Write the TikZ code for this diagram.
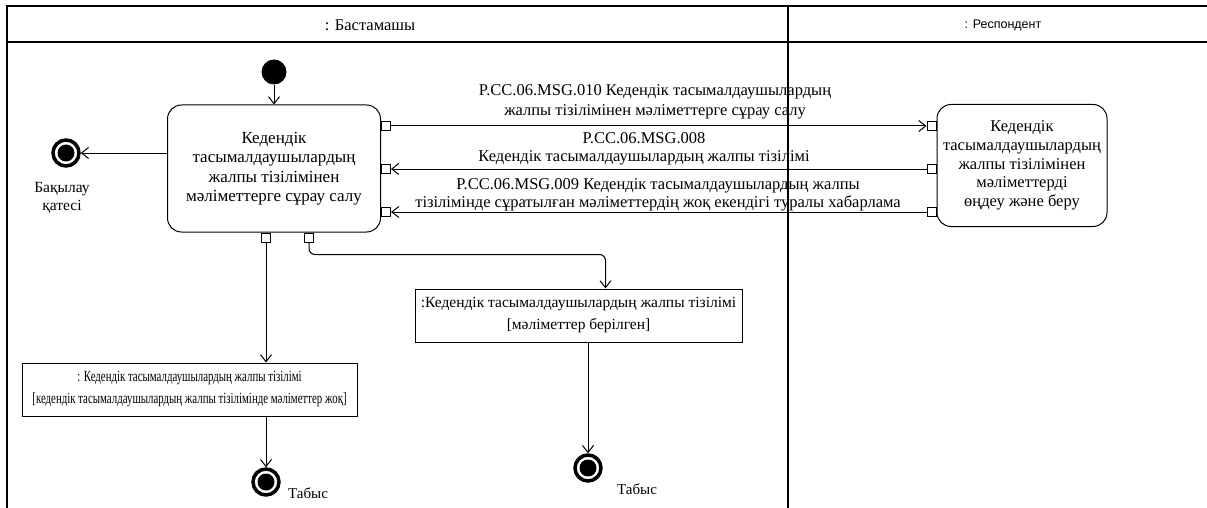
\documentclass[tikz,border=0pt]{standalone}
\usepackage{fontspec}
\setmainfont{Liberation Serif}
\newfontfamily\lanefont{Liberation Sans}
\newfontfamily\objfont[FakeStretch=0.7]{Liberation Serif}
\usetikzlibrary{arrows.meta}
\usetikzlibrary{positioning}

\begin{document}
\begin{tikzpicture}[x=1pt, y=-1pt, line width=1pt,
    flow/.style={-{Straight Barb[length=7pt,width=11pt]}},
    action/.style={draw, rounded corners=14pt, align=center, font=\fontsize{17}{19.5}\selectfont},
    pin/.style={draw, fill=white, minimum size=9pt, inner sep=0pt},
    objbox/.style={draw, inner sep=0pt, align=center},
    msg/.style={align=center, font=\fontsize{16.5}{18}\selectfont},
    startdot/.style={circle, fill, minimum size=25pt, inner sep=0pt},
    enddot/.style={circle, draw, line width=3.5pt, minimum size=26pt, inner sep=0pt,
      path picture={\fill (path picture bounding box.center) circle (8.5pt);}}]
      \useasboundingbox (0,0) rectangle (1207,508);
      \draw[line width=1.5pt] (7,508) -- (7,6) -- (1207,6);
      \draw[line width=1.5pt] (7,42) -- (1207,42);
      \draw[line width=1.5pt] (788,6) -- (788,508);
      \node[font=\fontsize{16.5}{18}\selectfont] (laneA) at (370,25) {: Бастамашы};
      \node[font=\lanefont\fontsize{12.5}{15}\selectfont] (laneB) at (1003,25) {: Респондент};

      \node[startdot] (start) at (274,72) {};
      \node[action, minimum width=213pt, minimum height=127pt] (req) at (274,168.5)
        {Кедендік\\тасымалдаушылардың\\жалпы тізілімінен\\мәліметтерге сұрау салу};
      \draw[flow] (start) -- (req);

      \node[pin, anchor=west] (reqOut) at (req.east |- 0,126) {};
      \node[pin, anchor=west] (reqOk) at (req.east |- 0,169) {};
      \node[pin, anchor=west] (reqNone) at (req.east |- 0,212) {};
      \node[pin, anchor=north] (reqNo) at (req.south -| 266,0) {};
      \node[pin, anchor=north] (reqYes) at (req.south -| 309,0) {};

      \node[action, minimum width=170pt, minimum height=122pt, font=\fontsize{16.5}{18.8}\selectfont] (resp) at (1022,165.5)
        {Кедендік\\тасымалдаушылардың\\жалпы тізілімінен\\мәліметтерді\\өңдеу және беру};
      \node[pin, anchor=east] (respIn) at (resp.west |- 0,126) {};
      \node[pin, anchor=east] (respOk) at (resp.west |- 0,169) {};
      \node[pin, anchor=east] (respNone) at (resp.west |- 0,212) {};

      \draw[flow] (reqOut) -- (respIn);
      \draw[flow] (respOk) -- (reqOk);
      \draw[flow] (respNone) -- (reqNone);
      \node[msg, font=\fontsize{16.5}{20}\selectfont] (msgReq) at (655,102)
        {P.CC.06.MSG.010 Кедендік тасымалдаушылардың\\жалпы тізілімінен мәліметтерге сұрау салу};
      \node[msg] (msgOk) at (644,149)
        {P.CC.06.MSG.008\\Кедендік тасымалдаушылардың жалпы тізілімі};
      \node[msg] (msgNone) at (658,195)
        {P.CC.06.MSG.009 Кедендік тасымалдаушылардың жалпы\\тізілімінде сұратылған мәліметтердің жоқ екендігі туралы хабарлама};

      \node[enddot] (errEnd) at (66,153) {};
      \draw[flow] (req.west |- errEnd) -- (errEnd);
      \node[align=center, font=\fontsize{15.5}{18}\selectfont] (errLbl) at (62,198) {Бақылау\\қатесі};

      \node[objbox, minimum width=335pt, minimum height=53pt, font=\objfont\fontsize{15.5}{22}\selectfont] (regNone) at (189.5,389.5)
        {: Кедендік тасымалдаушылардың жалпы тізілімі\\{}[кедендік тасымалдаушылардың жалпы тізілімінде мәліметтер жоқ]};
      \node[objbox, minimum width=327pt, minimum height=53pt, font=\fontsize{15.5}{22}\selectfont] (regOk) at (578.5,315.5)
        {:Кедендік тасымалдаушылардың жалпы тізілімі\\{}[мәліметтер берілген]};
      \draw[flow] (reqNo) -- (reqNo |- regNone.north);
      \draw[flow, rounded corners=6pt] (reqYes.south) -- ++(0,12) -| ([xshift=27pt]regOk.north);

      \node[enddot] (endNo) at (266,482) {};
      \node[font=\fontsize{15}{16}\selectfont] (endNoLbl) at (308,493) {Табыс};
      \draw[flow] (regNone.south -| endNo) -- (endNo);
      \node[enddot] (endYes) at (588,468) {};
      \node[font=\fontsize{15}{16}\selectfont] (endYesLbl) at (637,489) {Табыс};
      \draw[flow] (regOk.south -| endYes) -- (endYes);
    \end{tikzpicture}
\end{document}
